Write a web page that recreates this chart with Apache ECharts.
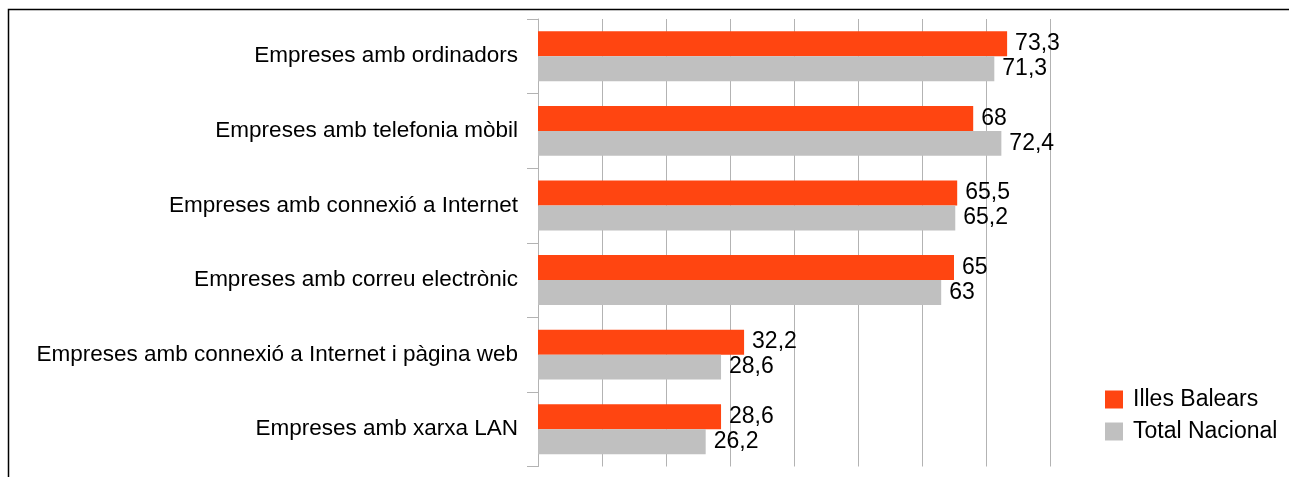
<!DOCTYPE html>
<html><head><meta charset="utf-8">
<script src="https://cdn.jsdelivr.net/npm/echarts@6/dist/echarts.min.js"></script>
<style>html,body{margin:0;padding:0;background:#fff}#c{width:1289px;height:477px}</style>
</head><body><div id="c"></div>
<script>
const categories = [
  "Empreses amb ordinadors",
  "Empreses amb telefonia mòbil",
  "Empreses amb connexió a Internet",
  "Empreses amb correu electrònic",
  "Empreses amb connexió a Internet i pàgina web",
  "Empreses amb xarxa LAN"
];
const illesBalears = [73.3, 68, 65.5, 65, 32.2, 28.6];
const totalNacional = [71.3, 72.4, 65.2, 63, 28.6, 26.2];
const seriesNames = ["Illes Balears", "Total Nacional"];

const FONT = "'Liberation Sans', Arial, sans-serif";
const fmt = p => String(p.value).replace('.', ',');

const chart = echarts.init(document.getElementById('c'), null, {renderer: 'canvas'});
chart.setOption({
  animation: false,
  backgroundColor: '#fff',
  textStyle: {fontFamily: FONT},
  graphic: [{
    type: 'rect', silent: true,
    shape: {x: 8.5, y: 9.5, width: 1400, height: 600},
    style: {fill: 'none', stroke: '#000', lineWidth: 1.5}
  }],
  grid: {left: 538, right: 239, top: 19, bottom: 10.5, containLabel: false},
  legend: {
    orient: 'vertical', left: 1105, top: 388, padding: 0,
    itemWidth: 18, itemHeight: 18, itemGap: 9,
    icon: 'rect',
    textStyle: {fontFamily: FONT, fontSize: 23, color: '#000', padding: [0, 0, 0, 5]},
    data: seriesNames
  },
  xAxis: {
    type: 'value', min: 0, max: 80, interval: 10,
    axisLabel: {show: false}, axisLine: {show: false}, axisTick: {show: false},
    splitLine: {show: true, lineStyle: {color: '#b3b3b3', width: 1}}
  },
  yAxis: {
    type: 'category', inverse: true, data: categories,
    axisLine: {show: true, lineStyle: {color: '#b3b3b3', width: 1}},
    axisTick: {show: true, length: 11, inside: false, alignWithLabel: false, lineStyle: {color: '#b3b3b3'}},
    axisLabel: {fontFamily: FONT, fontSize: 22.5, color: '#000', margin: 20}
  },
  series: [
    {
      name: seriesNames[0], type: 'bar', data: illesBalears,
      barGap: '0%', barCategoryGap: '33%',
      itemStyle: {color: '#FF4511'},
      label: {show: true, position: 'right', distance: 8, formatter: fmt,
              fontFamily: FONT, fontSize: 23, color: '#000'}
    },
    {
      name: seriesNames[1], type: 'bar', data: totalNacional,
      barGap: '0%', barCategoryGap: '33%',
      itemStyle: {color: '#C0C0C0'},
      label: {show: true, position: 'right', distance: 8, formatter: fmt,
              fontFamily: FONT, fontSize: 23, color: '#000'}
    }
  ]
});
</script></body></html>
